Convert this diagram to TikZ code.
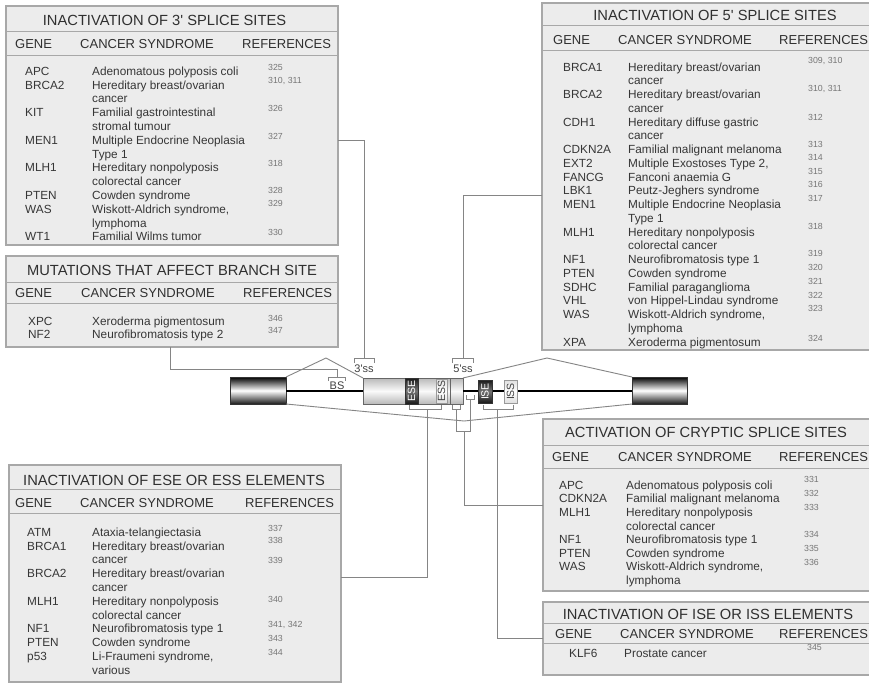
\documentclass[tikz,border=0pt]{standalone}
\usepackage{fontspec}
\setmainfont{Liberation Sans}
\usepackage{graphicx}
\definecolor{boxfill}{HTML}{ECECEC}
\definecolor{boxline}{HTML}{A8A8A8}
\definecolor{titlecol}{HTML}{303030}
\definecolor{bodycol}{HTML}{363636}
\definecolor{refcol}{HTML}{767676}
\definecolor{conncol}{HTML}{858585}
\tikzset{
  tbox/.style={draw=boxline, fill=boxfill, line width=1.1pt, inner sep=0pt, outer sep=0pt, anchor=north west},
  sepline/.style={draw=boxline, line width=1pt},
  titletxt/.style={text=titlecol, inner sep=0pt, font=\fontsize{14.7}{16}\selectfont, text height=10.5pt, text depth=0pt},
  headtxt/.style={text=titlecol, inner sep=0pt, anchor=west, font=\fontsize{13}{15}\selectfont, text height=9.3pt, text depth=0pt},
  bodytxt/.style={text=bodycol, inner sep=0pt, anchor=west, font=\fontsize{11.8}{14}\selectfont, text height=8.45pt, text depth=0pt},
  reftxt/.style={text=refcol, inner sep=0pt, anchor=west, font=\fontsize{8.8}{10}\selectfont, text height=6.3pt, text depth=0pt},
  conn/.style={draw=conncol, line width=0.9pt},
  splice/.style={draw=conncol, line width=0.9pt},
  intron/.style={draw=black, line width=2pt},
  exonend/.style={draw=black!80, line width=0.6pt, top color=black, bottom color=black!90, middle color=white, inner sep=0pt, outer sep=0pt, anchor=north west},
  exonmid/.style={draw=gray!80!black, line width=0.6pt, top color=gray!55, bottom color=gray!55, middle color=white!96!gray, inner sep=0pt, outer sep=0pt, anchor=north west},
  eltdark/.style={draw=black!80, line width=0.5pt, top color=black!90, bottom color=black!90, middle color=black!55, inner sep=0pt, outer sep=0pt, text=white, font=\fontsize{10.5}{12}\selectfont},
  eltlight/.style={draw=gray!80, line width=0.6pt, top color=gray!25, bottom color=gray!25, middle color=white, inner sep=0pt, outer sep=0pt, text=black!75, font=\fontsize{10.5}{12}\selectfont},
  sitelbl/.style={text=black!75, inner sep=0pt, font=\fontsize{11}{13}\selectfont, text height=7.9pt, text depth=0pt},
}
\newcommand\gcol{0}
\newcommand\scol{0}
\newcommand\rcol{0}
\newcommand\tabrow[6]{%
  \node[bodytxt] (#1g) at (\gcol,#2) {#3};
  \node[bodytxt] (#1s) at (\scol,#2) {#4};
  \node[reftxt] (#1r) at (\rcol,#5) {#6};}
\newcommand\tabcont[3]{\node[bodytxt] (#1) at (\scol,#2) {#3};}
\newcommand\tabhead[5]{%
  \node[headtxt] (#1g) at (#3,#2) {GENE};
  \node[headtxt] (#1s) at (#4,#2) {CANCER SYNDROME};
  \node[headtxt] (#1r) at (#5,#2) {REFERENCES};}
\begin{document}
\begin{tikzpicture}[x=1pt,y=-1pt]
\clip (0,0) rectangle (869,685);
\fill[white] (0,0) rectangle (869,685);

% ---------- table 1: 3' splice sites
\node[tbox, minimum width=332pt, minimum height=239pt] (t1) at (6,6) {};
\draw[sepline] (6,32) -- (338,32);
\draw[sepline] (6,56) -- (338,56);
\node[titletxt] (t1t) at (164.5,20) {INACTIVATION OF 3\textquotesingle{} SPLICE SITES};
\tabhead{t1h}{44}{15}{80}{242}
\renewcommand\gcol{25}\renewcommand\scol{92}\renewcommand\rcol{268}
\tabrow{t1a}{71}{APC}{Adenomatous polyposis coli}{67}{325}
\tabrow{t1b}{84.8}{BRCA2}{Hereditary breast/ovarian}{80}{310, 311}
\tabcont{t1bc}{98.6}{cancer}
\tabrow{t1c}{112.4}{KIT}{Familial gastrointestinal}{108}{326}
\tabcont{t1cc}{126.2}{stromal tumour}
\tabrow{t1d}{140}{MEN1}{Multiple Endocrine Neoplasia}{136}{327}
\tabcont{t1dc}{153.8}{Type 1}
\tabrow{t1e}{167.6}{MLH1}{Hereditary nonpolyposis}{163}{318}
\tabcont{t1ec}{181.4}{colorectal cancer}
\tabrow{t1f}{195.2}{PTEN}{Cowden syndrome}{190}{328}
\tabrow{t1g}{209}{WAS}{Wiskott-Aldrich syndrome,}{203}{329}
\tabcont{t1gc}{222.8}{lymphoma}
\tabrow{t1k}{236.6}{WT1}{Familial Wilms tumor}{232}{330}

% ---------- table 2: branch site
\node[tbox, minimum width=332pt, minimum height=91pt] (t2) at (6,256) {};
\draw[sepline] (6,282) -- (338,282);
\draw[sepline] (6,303) -- (338,303);
\node[titletxt] (t2t) at (172,270) {MUTATIONS THAT AFFECT BRANCH SITE};
\tabhead{t2h}{293}{15}{81}{243}
\renewcommand\gcol{28}\renewcommand\scol{92}\renewcommand\rcol{268}
\tabrow{t2a}{321.5}{XPC}{Xeroderma pigmentosum}{318}{346}
\tabrow{t2b}{334}{NF2}{Neurofibromatosis type 2}{330}{347}

% ---------- table 3: 5' splice sites
\node[tbox, minimum width=345pt, minimum height=347pt] (t3) at (542,3) {};
\draw[sepline] (542,26) -- (887,26);
\draw[sepline] (542,51) -- (887,51);
\node[titletxt] (t3t) at (715,15.5) {INACTIVATION OF 5\textquotesingle{} SPLICE SITES};
\tabhead{t3h}{40}{553}{618}{779}
\renewcommand\gcol{563}\renewcommand\scol{628}\renewcommand\rcol{808}
\tabrow{t3a}{67}{BRCA1}{Hereditary breast/ovarian}{60}{309, 310}
\tabcont{t3ac}{80.75}{cancer}
\tabrow{t3b}{94.5}{BRCA2}{Hereditary breast/ovarian}{88}{310, 311}
\tabcont{t3bc}{108.25}{cancer}
\tabrow{t3c}{122}{CDH1}{Hereditary diffuse gastric}{117}{312}
\tabcont{t3cc}{135.75}{cancer}
\tabrow{t3d}{149.5}{CDKN2A}{Familial malignant melanoma}{144}{313}
\tabrow{t3e}{163.25}{EXT2}{Multiple Exostoses Type 2,}{157}{314}
\tabrow{t3f}{177}{FANCG}{Fanconi anaemia G}{171}{315}
\tabrow{t3g}{190.75}{LBK1}{Peutz-Jeghers syndrome}{184}{316}
\tabrow{t3k}{204.5}{MEN1}{Multiple Endocrine Neoplasia}{198}{317}
\tabcont{t3kc}{218.25}{Type 1}
\tabrow{t3l}{232}{MLH1}{Hereditary nonpolyposis}{226}{318}
\tabcont{t3lc}{245.75}{colorectal cancer}
\tabrow{t3m}{259.5}{NF1}{Neurofibromatosis type 1}{253}{319}
\tabrow{t3n}{273.25}{PTEN}{Cowden syndrome}{267}{320}
\tabrow{t3o}{287}{SDHC}{Familial paraganglioma}{281}{321}
\tabrow{t3p}{300.75}{VHL}{von Hippel-Lindau syndrome}{295}{322}
\tabrow{t3q}{314.5}{WAS}{Wiskott-Aldrich syndrome,}{308}{323}
\tabcont{t3qc}{328.25}{lymphoma}
\tabrow{t3r}{342}{XPA}{Xeroderma pigmentosum}{338}{324}

% ---------- table 4: ESE / ESS
\node[tbox, minimum width=332pt, minimum height=217pt] (t4) at (9,465) {};
\draw[sepline] (9,489) -- (341,489);
\draw[sepline] (9,513) -- (341,513);
\node[titletxt] (t4t) at (174,480) {INACTIVATION OF ESE OR ESS ELEMENTS};
\tabhead{t4h}{503}{15}{80}{245}
\renewcommand\gcol{27}\renewcommand\scol{92}\renewcommand\rcol{268}
\tabrow{t4a}{532}{ATM}{Ataxia-telangiectasia}{528}{337}
\tabrow{t4b}{545.8}{BRCA1}{Hereditary breast/ovarian}{540}{338}
\tabcont{t4bc}{559.6}{cancer}
\tabrow{t4c}{573.4}{BRCA2}{Hereditary breast/ovarian}{560}{339}
\tabcont{t4cc}{587.2}{cancer}
\tabrow{t4d}{601}{MLH1}{Hereditary nonpolyposis}{599}{340}
\tabcont{t4dc}{614.8}{colorectal cancer}
\tabrow{t4e}{628.6}{NF1}{Neurofibromatosis type 1}{624}{341, 342}
\tabrow{t4f}{642.4}{PTEN}{Cowden syndrome}{638}{343}
\tabrow{t4g}{656.2}{p53}{Li-Fraumeni syndrome,}{652}{344}
\tabcont{t4gc}{670}{various}

% ---------- table 5: cryptic
\node[tbox, minimum width=345pt, minimum height=172pt] (t5) at (543,419) {};
\draw[sepline] (543,445) -- (888,445);
\draw[sepline] (543,468) -- (888,468);
\node[titletxt] (t5t) at (706,432) {ACTIVATION OF CRYPTIC SPLICE SITES};
\tabhead{t5h}{457}{552}{618}{779}
\renewcommand\gcol{559}\renewcommand\scol{626}\renewcommand\rcol{804}
\tabrow{t5a}{485}{APC}{Adenomatous polyposis coli}{479}{331}
\tabrow{t5b}{498.6}{CDKN2A}{Familial malignant melanoma}{493}{332}
\tabrow{t5c}{512.2}{MLH1}{Hereditary nonpolyposis}{507}{333}
\tabcont{t5cc}{525.8}{colorectal cancer}
\tabrow{t5d}{539.4}{NF1}{Neurofibromatosis type 1}{534}{334}
\tabrow{t5e}{553}{PTEN}{Cowden syndrome}{548}{335}
\tabrow{t5f}{566.6}{WAS}{Wiskott-Aldrich syndrome,}{562}{336}
\tabcont{t5fc}{580.2}{lymphoma}

% ---------- table 6: ISE / ISS
\node[tbox, minimum width=345pt, minimum height=73pt] (t6) at (543,602) {};
\draw[sepline] (543,623) -- (888,623);
\draw[sepline] (543,643) -- (888,643);
\node[titletxt] (t6t) at (708,614) {INACTIVATION OF ISE OR ISS ELEMENTS};
\tabhead{t6h}{634}{555}{620}{779}
\renewcommand\gcol{569}\renewcommand\scol{624}\renewcommand\rcol{807}
\tabrow{t6a}{653}{KLF6}{Prostate cancer}{647}{345}

% ---------- gene diagram
\node[exonend, minimum width=56pt, minimum height=27pt] (ex1) at (230,377) {};
\node[exonmid, minimum width=100pt, minimum height=26pt] (ex2) at (363,378) {};
\node[exonend, minimum width=55pt, minimum height=27pt] (ex3) at (632,377) {};
\draw[gray!80!black, line width=0.6pt] (450,378) -- (450,404);
\draw[intron] (ex1.east) -- (ex2.west |- ex1.east);
\draw[intron] (ex2.east |- ex1.east) -- (ex3.west);

% splicing lines
\draw[splice] (ex1.north east) -- (326,358) -- (ex2.north west);
\draw[splice] (ex2.north east) -- (547,358) -- (ex3.north west);
\draw[splice] (ex1.south east) -- (464,421) -- (ex3.south west);

% elements
\node[eltdark, minimum width=13pt, minimum height=26pt, anchor=north west] (ese) at (405,378) {\rotatebox{90}{ESE}};
\node[eltlight, minimum width=11pt, minimum height=24pt, anchor=north west] (ess) at (436,379) {\rotatebox{90}{ESS}};
\node[eltdark, minimum width=14pt, minimum height=23pt, anchor=north west] (ise) at (478,380) {\rotatebox{90}{ISE}};
\node[eltlight, minimum width=13pt, minimum height=23pt, anchor=north west] (iss) at (504,380) {\rotatebox{90}{ISS}};

% site labels and brackets
\coordinate (b3) at (364,358);
\coordinate (b5) at (463,358);
\coordinate (bb) at (337,377);
\coordinate (be) at (427,409);
\coordinate (ca) at (456,409);
\coordinate (cb) at (470.5,399);
\coordinate (cf) at (464,431);
\coordinate (bi) at (497,409);
\node[sitelbl] (l3) at (364,369) {3\textquotesingle ss};
\node[sitelbl] (l5) at (463,369) {5\textquotesingle ss};
\node[sitelbl] (lb) at (337,386) {BS};

\draw[conn] (354,363) -- (354,358) -- (374,358) -- (374,363);
\draw[conn] (452.5,363) -- (452.5,358) -- (473.5,358) -- (473.5,363);
\draw[conn] (328.5,381) -- (328.5,377) -- (345.5,377) -- (345.5,381);
\draw[conn] (409,405) -- (409,409) -- (441,409) -- (441,405);
\draw[conn] (452.5,405) -- (452.5,409) -- (460,409) -- (460,405);
\draw[conn] (466.5,395) -- (466.5,399) -- (474.5,399) -- (474.5,395);
\draw[conn] (483,405) -- (483,409) -- (513,409) -- (513,405);

% connectors
\draw[conn] (t1.east |- 0,140) -| (b3);
\draw[conn] (t3.west |- 0,195) -| (b5);
\draw[conn] (t2.south -| 170,0) |- (337,369) -- (bb);
\draw[conn] (t4.east |- 0,577) -| (be);
\draw[conn] (ca) -- (ca |- cf) -- (cb |- cf) -- (cb);
\draw[conn] (t5.west |- 0,505) -| (cf);
\draw[conn] (t6.west |- 0,638) -| (bi);
\end{tikzpicture}
\end{document}
